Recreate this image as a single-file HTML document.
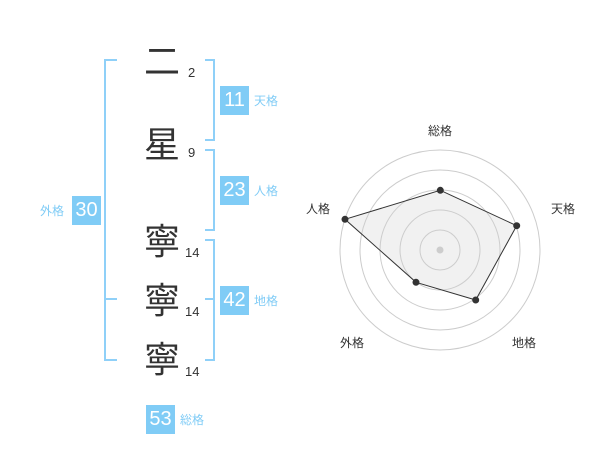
<!DOCTYPE html><html><head><meta charset="utf-8"><style>
body{margin:0;width:600px;height:470px;background:#fff;position:relative;font-family:"Liberation Sans","Noto Sans CJK JP",sans-serif;overflow:hidden}
.a{position:absolute}
.k{position:absolute;font-size:36px;color:#333;line-height:1;width:40px;text-align:center;font-family:"Noto Sans CJK JP",sans-serif}
.n{position:absolute;font-size:13px;color:#333;line-height:1}
.b{position:absolute;width:29px;height:29px;background:#80ccf6;color:#fff;font-size:20px;line-height:29px;text-align:center}
.l{position:absolute;font-size:12px;color:#80ccf6;line-height:1}
</style></head><body>
<div class="k" style="left:142px;top:41px">二</div>
<div class="k" style="left:142px;top:124px">星</div>
<div class="k" style="left:142px;top:221px">寧</div>
<div class="k" style="left:142px;top:280px">寧</div>
<div class="k" style="left:142px;top:339px">寧</div>
<div class="n" style="left:188px;top:66px">2</div>
<div class="n" style="left:188px;top:146px">9</div>
<div class="n" style="left:185px;top:246px">14</div>
<div class="n" style="left:185px;top:305px">14</div>
<div class="n" style="left:185px;top:365px">14</div>
<svg class="a" style="left:0;top:0" width="600" height="470">
<g stroke="#8fd0f8" stroke-width="2" fill="none">
<path d="M117 60H105V360H117M105 299H117"/>
<path d="M205 60H214V140H205M205 150H214V230H205M205 240H214V360H205M205 299H214"/>
</g>
<g fill="none" stroke="#ccc" stroke-width="1">
<circle cx="440" cy="250" r="20"/><circle cx="440" cy="250" r="40"/><circle cx="440" cy="250" r="60"/><circle cx="440" cy="250" r="80"/><circle cx="440" cy="250" r="100"/>
</g>
<circle cx="440" cy="250" r="3.5" fill="#ccc"/>
<polygon points="440.3,190.3 516.7,225.7 475.7,300 416,282.3 345,219.3" fill="rgba(210,210,210,0.3)" stroke="#333" stroke-width="1"/>
<g fill="#333"><circle cx="440.3" cy="190.3" r="3.5"/><circle cx="516.7" cy="225.7" r="3.5"/><circle cx="475.7" cy="300" r="3.5"/><circle cx="416" cy="282.3" r="3.5"/><circle cx="345" cy="219.3" r="3.5"/></g>
<g font-size="12" fill="#333" text-anchor="middle" font-family="Liberation Sans,Noto Sans CJK JP,sans-serif">
<text x="440" y="135">総格</text><text x="563" y="213">天格</text><text x="524" y="347">地格</text><text x="352" y="347">外格</text><text x="318" y="213">人格</text>
</g>
</svg>
<div class="b" style="left:220px;top:86px">11</div><div class="l" style="left:254px;top:95px">天格</div>
<div class="b" style="left:220px;top:176px">23</div><div class="l" style="left:254px;top:185px">人格</div>
<div class="b" style="left:220px;top:286px">42</div><div class="l" style="left:254px;top:295px">地格</div>
<div class="b" style="left:72px;top:196px">30</div><div class="l" style="left:40px;top:205px">外格</div>
<div class="b" style="left:146px;top:405px">53</div><div class="l" style="left:180px;top:414px">総格</div>
</body></html>
